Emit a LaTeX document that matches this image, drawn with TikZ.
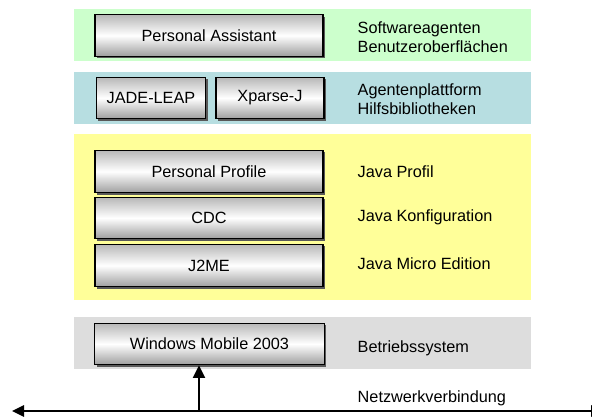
\documentclass[tikz,border=0pt]{standalone}
\usepackage{fontspec}
\setmainfont{Liberation Sans}
\usetikzlibrary{arrows.meta,shadows}
\definecolor{swgreen}{RGB}{204,255,204}
\definecolor{libblue}{RGB}{183,222,225}
\definecolor{javayellow}{RGB}{255,255,153}
\definecolor{osgray}{RGB}{221,221,221}
\begin{document}
\begin{tikzpicture}[x=0.75pt,y=-0.75pt,font=\fontsize{12.2}{14.5}\selectfont,
  layer/.style={draw=black,line width=0.8pt,minimum height=31pt,
    top color=black!28,bottom color=black!38,middle color=white,
    drop shadow={shadow xshift=1.6pt,shadow yshift=-1.6pt,fill=black!65,opacity=1}},
  desc/.style={anchor=west,align=left}]
\clip (0,0) rectangle (592,417);
% bands
\fill [swgreen] (74,9) rectangle (531,61);
\fill [libblue] (74,72) rectangle (531,124);
\fill [javayellow] (74,134) rectangle (531,300);
\fill [osgray] (74,317) rectangle (531,369);
% layers
\node (pa) at (209,35.5) [layer,minimum width=171pt] {Personal Assistant};
\node (jade) at (151,98) [layer,minimum width=82pt] {JADE-LEAP};
\node (xp) at (270,98) [layer,minimum width=81pt] {Xparse-J};
\node (pp) at (209,171.5) [layer,minimum width=171pt,minimum height=32pt] {Personal Profile};
\node (cdc) at (209,218) [layer,minimum width=171pt] {CDC};
\node (j2me) at (209,265.5) [layer,minimum width=171pt,minimum height=32pt] {J2ME};
\node (wm) at (209.5,344) [layer,minimum width=172pt] {Windows Mobile 2003};
% descriptions
\node (dsw) at (353,37.5) [desc] {Softwareagenten\\Benutzeroberflächen};
\node (dlib) at (353,99.5) [desc] {Agentenplattform\\Hilfsbibliotheken};
\node (dprof) at (353,172) [desc] {Java Profil};
\node (dconf) at (353,217) [desc] {Java Konfiguration};
\node (dme) at (353,264) [desc] {Java Micro Edition};
\node (dos) at (353,348) [desc] {Betriebssystem};
\node (dnet) at (353,398) [desc] {Netzwerkverbindung};
% network
\coordinate (netL) at (12,411);
\coordinate (netR) at (603,411);
\coordinate (netW) at (199,411);
\draw [line width=1.5pt,{Triangle[width=8.5pt,length=9pt]}-{Triangle[width=8.5pt,length=9pt]}] (netL) -- (netR);
\draw [line width=1.5pt,-{Triangle[width=9pt,length=9.5pt]}] (netW) -- (netW |- wm.south);
\end{tikzpicture}
\end{document}
